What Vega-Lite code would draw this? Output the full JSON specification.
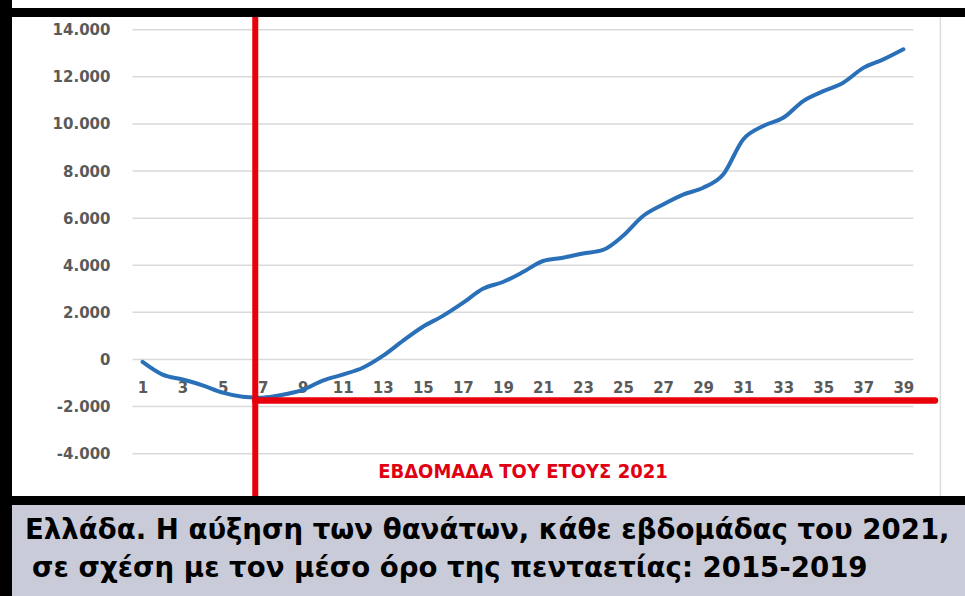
{
  "$schema": "https://vega.github.io/schema/vega-lite/v6.json",
  "background": "black",
  "padding": {"left": 12, "top": 0, "right": 0, "bottom": 0},
  "spacing": 6,
  "config": {
    "view": {"stroke": null},
    "axisX": {
      "orient": "bottom", "offset": -109, "labelBaseline": "middle",
      "labelPadding": 0, "ticks": false, "tickSize": 0, "domain": false, "grid": false, "title": null,
      "labelFont": "DejaVu Sans", "labelFontWeight": "bold", "labelFontSize": 15, "labelColor": "#5a5a5a",
      "labelFlush": false, "labelOverlap": false
    },
    "axisY": {
      "orient": "left", "offset": -98, "labelPadding": 0, "ticks": false, "tickSize": 0,
      "domain": false, "grid": false, "title": null,
      "labelFont": "DejaVu Sans", "labelFontWeight": "bold", "labelFontSize": 15, "labelColor": "#5a5a5a",
      "labelFlush": false, "labelOverlap": false
    }
  },
  "vconcat": [
    {
      "width": 953,
      "height": 8,
      "view": {"fill": "white", "stroke": null},
      "data": {"values": []},
      "mark": "rule",
      "encoding": {}
    },
    {
      "width": 953,
      "height": 479,
      "view": {"fill": "white", "stroke": null},
      "layer": [
        {
          "data": {"values": [{"grid": -4000}, {"grid": -2000}, {"grid": 0}, {"grid": 2000}, {"grid": 4000}, {"grid": 6000}, {"grid": 8000}, {"grid": 10000}, {"grid": 12000}, {"grid": 14000}]},
          "mark": {"type": "rule", "color": "#d9d9d9", "strokeWidth": 1.5},
          "encoding": {
            "y": {
              "field": "grid", "type": "quantitative", "title": null,
              "scale": {"domain": [-5796, 14539], "nice": false, "zero": false},
              "axis": {"values": [-4000, -2000, 0, 2000, 4000, 6000, 8000, 10000, 12000, 14000], "labelExpr": "replace(replace(format(datum.value, ','), ',', '.'), '\u2212', '-')"}
            },
            "x": {
              "datum": 0.5, "type": "quantitative", "title": null,
              "scale": {"domain": [-5.52, 42.08], "nice": false, "zero": false},
              "axis": {"values": [1, 3, 5, 7, 9, 11, 13, 15, 17, 19, 21, 23, 25, 27, 29, 31, 33, 35, 37, 39], "format": "d"}
            },
            "x2": {"datum": 39.5}
          }
        },
        {
          "data": {"values": [{"edge": 40.85}]},
          "mark": {"type": "rule", "color": "#dcdcdc", "strokeWidth": 1.5},
          "encoding": {
            "x": {
              "field": "edge", "type": "quantitative", "title": null,
              "scale": {"domain": [-5.52, 42.08], "nice": false, "zero": false},
              "axis": {"values": [1, 3, 5, 7, 9, 11, 13, 15, 17, 19, 21, 23, 25, 27, 29, 31, 33, 35, 37, 39], "format": "d"}
            }
          }
        },
        {
          "data": {"values": [
            {"week": 1, "excess": -100}, {"week": 2, "excess": -640}, {"week": 3, "excess": -850},
            {"week": 4, "excess": -1100}, {"week": 5, "excess": -1410}, {"week": 6, "excess": -1580},
            {"week": 7, "excess": -1620}, {"week": 8, "excess": -1500}, {"week": 9, "excess": -1290},
            {"week": 10, "excess": -900}, {"week": 11, "excess": -640}, {"week": 12, "excess": -350},
            {"week": 13, "excess": 150}, {"week": 14, "excess": 790}, {"week": 15, "excess": 1390},
            {"week": 16, "excess": 1850}, {"week": 17, "excess": 2400}, {"week": 18, "excess": 3000},
            {"week": 19, "excess": 3290}, {"week": 20, "excess": 3710}, {"week": 21, "excess": 4180},
            {"week": 22, "excess": 4320}, {"week": 23, "excess": 4500}, {"week": 24, "excess": 4650},
            {"week": 25, "excess": 5250}, {"week": 26, "excess": 6090}, {"week": 27, "excess": 6580},
            {"week": 28, "excess": 7000}, {"week": 29, "excess": 7290}, {"week": 30, "excess": 7850},
            {"week": 31, "excess": 9340}, {"week": 32, "excess": 9910}, {"week": 33, "excess": 10260},
            {"week": 34, "excess": 10970}, {"week": 35, "excess": 11390}, {"week": 36, "excess": 11750},
            {"week": 37, "excess": 12380}, {"week": 38, "excess": 12740}, {"week": 39, "excess": 13170}
          ]},
          "mark": {"type": "line", "color": "#2a70b8", "strokeWidth": 4, "interpolate": "monotone", "strokeCap": "round"},
          "encoding": {
            "x": {
              "field": "week", "type": "quantitative", "title": null,
              "scale": {"domain": [-5.52, 42.08], "nice": false, "zero": false},
              "axis": {"values": [1, 3, 5, 7, 9, 11, 13, 15, 17, 19, 21, 23, 25, 27, 29, 31, 33, 35, 37, 39], "format": "d"}
            },
            "y": {
              "field": "excess", "type": "quantitative", "title": null,
              "scale": {"domain": [-5796, 14539], "nice": false, "zero": false},
              "axis": {"values": [-4000, -2000, 0, 2000, 4000, 6000, 8000, 10000, 12000, 14000], "labelExpr": "replace(replace(format(datum.value, ','), ',', '.'), '\u2212', '-')"}
            }
          }
        },
        {
          "data": {"values": [{"marker": 6.63}]},
          "mark": {"type": "rule", "color": "#e8000b", "strokeWidth": 6},
          "encoding": {
            "x": {
              "field": "marker", "type": "quantitative", "title": null,
              "scale": {"domain": [-5.52, 42.08], "nice": false, "zero": false},
              "axis": {"values": [1, 3, 5, 7, 9, 11, 13, 15, 17, 19, 21, 23, 25, 27, 29, 31, 33, 35, 37, 39], "format": "d"}
            }
          }
        },
        {
          "data": {"values": [{"level": -1740, "start": 6.63, "end": 40.58}]},
          "mark": {"type": "rule", "color": "#e8000b", "strokeWidth": 6.5, "strokeCap": "round"},
          "encoding": {
            "y": {
              "field": "level", "type": "quantitative", "title": null,
              "scale": {"domain": [-5796, 14539], "nice": false, "zero": false},
              "axis": {"values": [-4000, -2000, 0, 2000, 4000, 6000, 8000, 10000, 12000, 14000], "labelExpr": "replace(replace(format(datum.value, ','), ',', '.'), '\u2212', '-')"}
            },
            "x": {
              "field": "start", "type": "quantitative", "title": null,
              "scale": {"domain": [-5.52, 42.08], "nice": false, "zero": false},
              "axis": {"values": [1, 3, 5, 7, 9, 11, 13, 15, 17, 19, 21, 23, 25, 27, 29, 31, 33, 35, 37, 39], "format": "d"}
            },
            "x2": {"field": "end"}
          }
        },
        {
          "data": {"values": [{"week": 20, "excess": -4790, "label": "ΕΒΔΟΜΑΔΑ ΤΟΥ ΕΤΟΥΣ 2021"}]},
          "mark": {"type": "text", "font": "DejaVu Sans Condensed", "fontWeight": "bold", "fontSize": 20, "color": "#e00012", "align": "center", "baseline": "middle"},
          "encoding": {
            "x": {
              "field": "week", "type": "quantitative", "title": null,
              "scale": {"domain": [-5.52, 42.08], "nice": false, "zero": false},
              "axis": {"values": [1, 3, 5, 7, 9, 11, 13, 15, 17, 19, 21, 23, 25, 27, 29, 31, 33, 35, 37, 39], "format": "d"}
            },
            "y": {
              "field": "excess", "type": "quantitative", "title": null,
              "scale": {"domain": [-5796, 14539], "nice": false, "zero": false},
              "axis": {"values": [-4000, -2000, 0, 2000, 4000, 6000, 8000, 10000, 12000, 14000], "labelExpr": "replace(replace(format(datum.value, ','), ',', '.'), '\u2212', '-')"}
            },
            "text": {"field": "label"}
          }
        }
      ]
    },
    {
      "width": 953,
      "height": 97,
      "view": {"fill": "#c9ccd8", "stroke": null},
      "layer": [
        {
          "data": {"values": [{"line": 1, "caption": "Ελλάδα. Η αύξηση των θανάτων, κάθε εβδομάδας του 2021,"}]},
          "mark": {"type": "text", "font": "DejaVu Sans", "fontWeight": "bold", "fontSize": 27.6, "color": "black", "align": "left", "baseline": "alphabetic", "dx": 13, "dy": 4.5},
          "encoding": {
            "x": {"datum": 0, "type": "quantitative", "scale": {"domain": [0, 1]}, "axis": null},
            "y": {"field": "line", "type": "ordinal", "scale": {"type": "point", "padding": 0.776, "domain": [1, 2]}, "axis": null},
            "text": {"field": "caption"}
          }
        },
        {
          "data": {"values": [{"line": 2, "caption": "σε σχέση με τον μέσο όρο της πενταετίας: 2015-2019"}]},
          "mark": {"type": "text", "font": "DejaVu Sans", "fontWeight": "bold", "fontSize": 27.6, "color": "black", "align": "left", "baseline": "alphabetic", "dx": 20, "dy": 4.5},
          "encoding": {
            "x": {"datum": 0, "type": "quantitative", "scale": {"domain": [0, 1]}, "axis": null},
            "y": {"field": "line", "type": "ordinal", "scale": {"type": "point", "padding": 0.776, "domain": [1, 2]}, "axis": null},
            "text": {"field": "caption"}
          }
        }
      ]
    }
  ]
}
